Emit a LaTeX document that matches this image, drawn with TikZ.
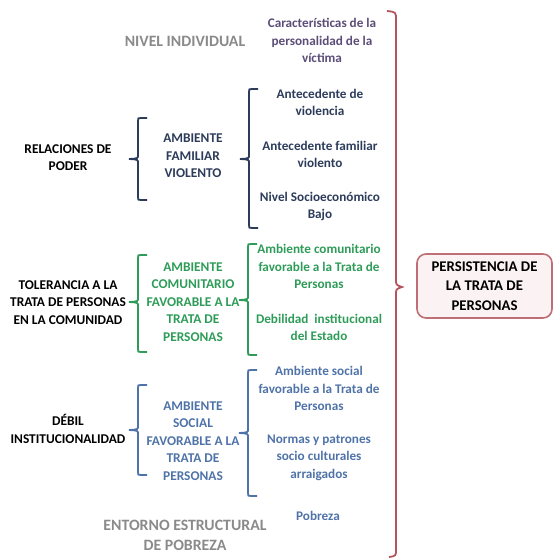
\documentclass[tikz,border=0pt]{standalone}
\usepackage{fontspec}
\setmainfont{Carlito}
\definecolor{headgray}{HTML}{8A8A8A}
\definecolor{violetc}{HTML}{5B4D78}
\definecolor{navyc}{HTML}{2C3C5A}
\definecolor{greenc}{HTML}{2E9C58}
\definecolor{steelc}{HTML}{4F73A8}
\definecolor{redc}{HTML}{B4545E}
\definecolor{boxfill}{HTML}{FBF3F3}
% square brace with a short tick pointing left: colour, x, top, middle, bottom
\newcommand\levelbrace[5]{%
  \draw[bracestyle,#1] ({#2+9},#3) -- ({#2+3},#3) .. controls (#2,#3) .. (#2,{#3+3})
    -- (#2,{#4-4}) .. controls (#2,{#4-0.5}) .. ({#2-9},#4)
    .. controls (#2,{#4+0.5}) .. (#2,{#4+4})
    -- (#2,{#5-3}) .. controls (#2,#5) .. ({#2+3},#5) -- ({#2+9},#5);}
\begin{document}
\begin{tikzpicture}[x=1pt,y=-1pt,
  bracestyle/.style={line width=1.8pt},
  small/.style={align=center,inner sep=0pt,font=\bfseries\fontsize{13.2}{17.5}\selectfont},
  caps/.style={align=center,inner sep=0pt,font=\bfseries\fontsize{13.4}{17.5}\selectfont},
  head/.style={align=center,inner sep=0pt,text=headgray,font=\bfseries\fontsize{15.8}{20}\selectfont}]
\useasboundingbox (0,0) rectangle (555,559);

% level headers
\node[head] (nivel) at (185,41) {NIVEL INDIVIDUAL};
\node[head] (entorno) at (185,535) {ENTORNO ESTRUCTURAL\\DE POBREZA};
\node[small,text=violetc] (caract) at (322,40.5) {Características de la\\personalidad de la\\víctima};

% family violence branch
\node[caps] (poder) at (68,157.5) {RELACIONES DE\\PODER};
\levelbrace{navyc}{138}{118}{159}{200}
\node[caps,text=navyc] (familiar) at (193,156) {AMBIENTE\\FAMILIAR\\VIOLENTO};
\levelbrace{navyc}{249}{89}{159}{228}
\node[small,text=navyc] (antviol) at (320,102.5) {Antecedente de\\violencia};
\node[small,text=navyc] (antfam) at (320,154.5) {Antecedente familiar\\violento};
\node[small,text=navyc] (nivelse) at (320,206.5) {Nivel Socioeconómico\\Bajo};

% community branch
\node[caps] (tolerancia) at (68,302.5) {TOLERANCIA A LA\\TRATA DE PERSONAS\\EN LA COMUNIDAD};
\levelbrace{greenc}{138}{255}{302}{352}
\node[caps,text=greenc] (comunit) at (193,302) {AMBIENTE\\COMUNITARIO\\FAVORABLE A LA\\TRATA DE\\PERSONAS};
\levelbrace{greenc}{248}{244}{300}{355}
\node[small,text=greenc] (ambcom) at (319,266.5) {Ambiente comunitario\\favorable a la Trata de\\Personas};
\node[small,text=greenc] (debil) at (319,327.5) {Debilidad\ \ institucional\\del Estado};

% social branch
\node[caps] (debinst) at (68,429) {DÉBIL\\INSTITUCIONALIDAD};
\levelbrace{steelc}{138}{385}{430}{475}
\node[caps,text=steelc] (social) at (193,441) {AMBIENTE\\SOCIAL\\FAVORABLE A LA\\TRATA DE\\PERSONAS};
\levelbrace{steelc}{248}{370}{433}{496}
\node[small,text=steelc] (ambsoc) at (319,388.5) {Ambiente social\\favorable a la Trata de\\Personas};
\node[small,text=steelc] (normas) at (319,457.5) {Normas y patrones\\socio culturales\\arraigados};
\node[small,text=steelc] (pobreza) at (318,516) {Pobreza};

% outer brace gathering every factor
\draw[redc,line width=1.8pt] (387,11) .. controls (396,12) .. (396,20) -- (396,279)
  .. controls (396,285) .. (402,287) .. controls (396,289) .. (396,295)
  -- (396,549) .. controls (396,556) .. (389,557);

% result
\node[draw=redc!85,fill=boxfill,line width=1.6pt,rounded corners=9pt,
  minimum width=135,minimum height=64,align=center,inner sep=0pt,
  font=\bfseries\fontsize{14.8}{19.5}\selectfont] (persist) at (484.5,286)
  {PERSISTENCIA DE\\LA TRATA DE\\PERSONAS};
\end{tikzpicture}
\end{document}
